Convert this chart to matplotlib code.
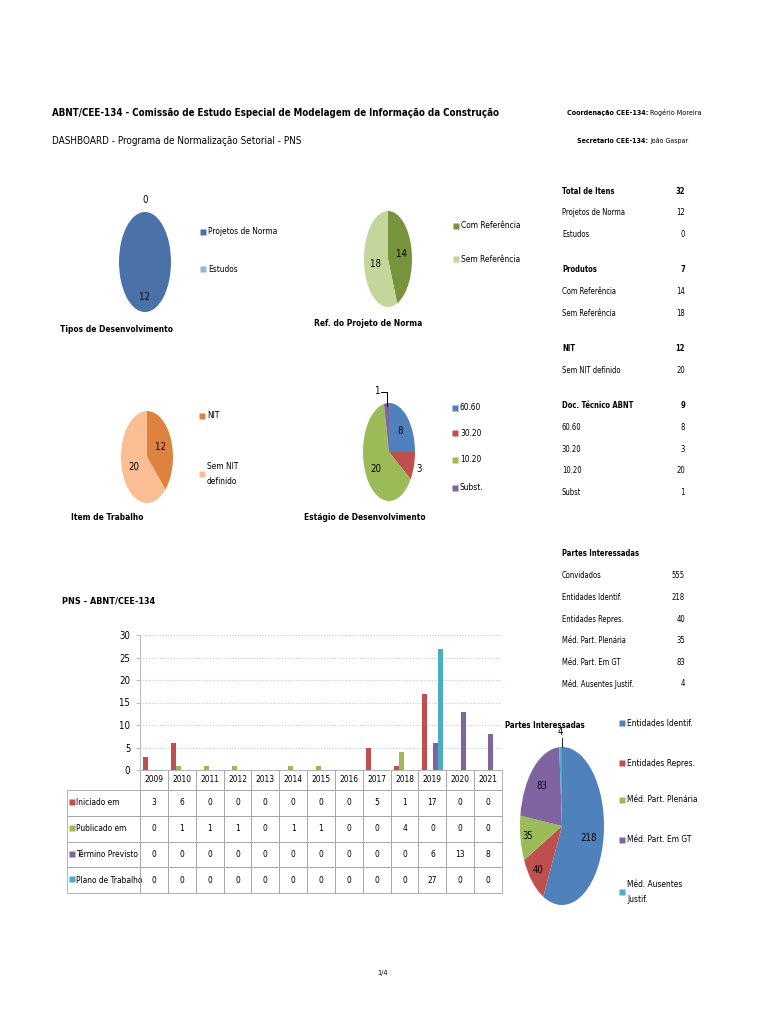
import numpy as np
import matplotlib
matplotlib.use("Agg")
import matplotlib.pyplot as plt
from matplotlib import font_manager

W, H = 768, 1024

# ---- data ----
tipos_labels = ['Projetos de Norma', 'Estudos']
tipos_values = [12, 0]
ref_labels = ['Com Referência', 'Sem Referência']
ref_values = [14, 18]
item_labels = ['NIT', 'Sem NIT\ndefinido']
item_values = [12, 20]
estagio_labels = ['60.60', '30.20', '10.20', 'Subst.']
estagio_values = [8, 3, 20, 1]
partes_labels = ['Entidades Identif.', 'Entidades Repres.', 'Méd. Part. Plenária',
                 'Méd. Part. Em GT', 'Méd. Ausentes\nJustif.']
partes_values = [218, 40, 35, 83, 4]

years = ['2009', '2010', '2011', '2012', '2013', '2014', '2015', '2016',
         '2017', '2018', '2019', '2020', '2021']
iniciado = [3, 6, 0, 0, 0, 0, 0, 0, 5, 1, 17, 0, 0]
publicado = [0, 1, 1, 1, 0, 1, 1, 0, 0, 4, 0, 0, 0]
termino = [0, 0, 0, 0, 0, 0, 0, 0, 0, 0, 6, 13, 8]
plano = [0, 0, 0, 0, 0, 0, 0, 0, 0, 0, 27, 0, 0]
series_names = ['Iniciado em', 'Publicado em', 'Término Previsto', 'Plano de Trabalho']

summary_rows = [
    ('Total de Itens', '32', True), ('Projetos de Norma', '12', False), ('Estudos', '0', False),
    None,
    ('Produtos', '7', True), ('Com Referência', '14', False), ('Sem Referência', '18', False),
    None,
    ('NIT', '12', True), ('Sem NIT definido', '20', False),
    None,
    ('Doc. Técnico ABNT', '9', True), ('60.60', '8', False), ('30.20', '3', False),
    ('10.20', '20', False), ('Subst', '1', False),
]
partes_rows = [('Convidados', '555'), ('Entidades Identif.', '218'), ('Entidades Repres.', '40'),
               ('Méd. Part. Plenária', '35'), ('Méd. Part. Em GT', '83'), ('Méd. Ausentes Justif.', '4')]

blue, red, green, purple, cyan = '#4F81BD', '#C0504D', '#9BBB59', '#8064A2', '#4BACC6'

# use a condensed face when one is installed (the original uses a narrow font)
fonts = font_manager.fontManager.ttflist
cond_names = {f.name for f in fonts if f.stretch != 'normal'}
if 'DejaVu Sans' in cond_names:
    plt.rcParams['font.family'] = ['DejaVu Sans']
    plt.rcParams['font.stretch'] = 'condensed'
else:
    plt.rcParams['font.family'] = ['Liberation Sans', 'DejaVu Sans']


def px_rect(x0, y0, x1, y1):
    return [x0 / W, 1 - y1 / H, (x1 - x0) / W, (y1 - y0) / H]


fig = plt.figure(figsize=(7.68, 10.24), dpi=100)
renderer = fig.canvas.get_renderer()

# scale factor so that body text has the reference's width
probe = fig.text(0, 0, 'Projetos de Norma', fontsize=10)
K = 70.0 / probe.get_window_extent(renderer).width * 10 / 7.5
probe.remove()

# overlay axes in pixel coordinates for free text
bg = fig.add_axes([0, 0, 1, 1], zorder=10)
bg.set_xlim(0, W)
bg.set_ylim(H, 0)
bg.axis('off')
bg.patch.set_alpha(0)


def txt(x, y, s, fs, **kw):
    return bg.text(x, y, s, fontsize=fs * K, va=kw.pop('va', 'center'), **kw)


def fit(x, y, s, width, **kw):
    t = bg.text(x, y, s, fontsize=10, va='center', **kw)
    t.set_fontsize(10 * width / t.get_window_extent(renderer).width)
    return t


def two_part(x_right, y, bold_s, reg_s, width):
    # bold lead-in followed by regular text, right aligned, scaled to width
    t = bg.text(x_right, y, reg_s, fontsize=10, va='center', ha='right')
    b = bg.annotate(bold_s, xy=(0, 0.5), xycoords=t, ha='right', va='center',
                    fontsize=10, fontweight='bold')
    total = t.get_window_extent(renderer).width + b.get_window_extent(renderer).width
    fs = 10 * width / total
    t.set_fontsize(fs)
    b.set_fontsize(fs)


def draw_pie(cx, cy, rx, ry, values, colors, dists):
    ax = fig.add_axes(px_rect(cx - rx, cy - ry, cx + rx, cy + ry))
    wedges, _ = ax.pie(values, colors=colors, startangle=90, counterclock=False,
                       wedgeprops=dict(linewidth=0))
    ax.set_aspect('auto')
    ax.set_xlim(-1, 1)
    ax.set_ylim(-1, 1)
    for w, v, r in zip(wedges, values, dists):
        ang = np.deg2rad((w.theta1 + w.theta2) / 2)
        ax.text(r * np.cos(ang), r * np.sin(ang), str(v), ha='center', va='center',
                fontsize=8.5 * K, clip_on=False)
    return ax, wedges


def legend(x, ys, labels, colors, fs=7.5):
    for y, lab, c in zip(ys, labels, colors):
        bg.plot(x, y, 's', color=c, ms=4.5, mec='none')
        txt(x + 5, y, lab, fs, ha='left', linespacing=1.9)


# ---- header ----
fit(52, 113, 'ABNT/CEE-134 - Comissão de Estudo Especial de Modelagem de Informação da Construção',
    445, fontweight='bold')
fit(52, 141, 'DASHBOARD - Programa de Normalização Setorial - PNS', 249)
two_part(702, 113, 'Coordenação CEE-134: ', 'Rogério Moreira', 135)
two_part(688, 141, 'Secretario CEE-134: ', 'João Gaspar', 111)

# ---- pies ----
tipos_colors = ['#4A72A8', '#95B3D7']
draw_pie(145, 262, 26, 50, tipos_values, tipos_colors, [0.7, 1.24])
legend(203, [232, 269], tipos_labels, tipos_colors)
txt(117, 330, 'Tipos de Desenvolvimento', 7.5, fontweight='bold', ha='center')

ref_colors = ['#77933C', '#C3D69B']
draw_pie(388, 259, 24, 48, ref_values, ref_colors, [0.55, 0.55])
legend(456, [226, 259], ref_labels, ref_colors)
txt(368, 323, 'Ref. do Projeto de Norma', 7.5, fontweight='bold', ha='center')

item_colors = ['#DE8240', '#F9BE93']
draw_pie(147, 457, 26, 46, item_values, item_colors, [0.55, 0.55])
legend(202, [416, 474], item_labels, item_colors)
txt(107, 518, 'Item de Trabalho', 7.5, fontweight='bold', ha='center')

estagio_colors = [blue, red, green, purple]
ax4, w4 = draw_pie(389, 452, 26, 49, estagio_values, estagio_colors, [0.62, 1.2, 0.62, 0])
# the small wedge gets an outside label with a leader line
ax4.texts[-1].set_visible(False)
ang = np.deg2rad((w4[3].theta1 + w4[3].theta2) / 2)
ax4.plot([np.cos(ang) * 0.95, np.cos(ang) * 0.95, -0.3], [np.sin(ang) * 0.95, 1.22, 1.22],
         color='black', lw=0.7, clip_on=False)
ax4.text(-0.42, 1.24, str(estagio_values[3]), ha='center', va='center', fontsize=8.5 * K, clip_on=False)
legend(455, [408, 433, 460, 488], estagio_labels, estagio_colors)
txt(365, 518, 'Estágio de Desenvolvimento', 7.5, fontweight='bold', ha='center')

partes_colors = [blue, red, green, purple, cyan]
ax5, w5 = draw_pie(562, 826, 42, 79, partes_values, partes_colors, [0.66, 0.8, 0.82, 0.7, 1.19])
ax5.plot([0, 0], [1.0, 1.12], color='black', lw=0.6, clip_on=False)
legend(622, [723, 763, 800, 840, 892], partes_labels, partes_colors)
txt(545, 726, 'Partes Interessadas', 7, fontweight='bold', ha='center')

# ---- summary table (right) ----
y = 191
for row in summary_rows:
    if row is None:
        y += 14
        continue
    lab, val, bold = row
    fw = 'bold' if bold else 'normal'
    txt(562, y, lab, 6.8, fontweight=fw)
    txt(685, y, val, 6.8, fontweight=fw, ha='right')
    y += 21.6

txt(562, 554, 'Partes Interessadas', 6.8, fontweight='bold')
for i, (lab, val) in enumerate(partes_rows):
    yy = 576 + i * 21.6
    txt(562, yy, lab, 6.8)
    txt(685, yy, val, 6.8, ha='right')

# ---- bar chart ----
txt(62, 601, 'PNS - ABNT/CEE-134', 8, fontweight='bold')
axb = fig.add_axes(px_rect(140, 635, 502, 770))
x = np.arange(len(years))
series = [iniciado, publicado, termino, plano]
scolors = [red, green, purple, cyan]
for i, (vals, c) in enumerate(zip(series, scolors)):
    axb.bar(x + (i - 1.5) * 0.2, vals, width=0.18, color=c, zorder=3)
axb.set_xlim(-0.5, len(years) - 0.5)
axb.set_ylim(0, 30)
axb.set_yticks(range(0, 31, 5))
axb.set_xticks([])
axb.tick_params(axis='y', labelsize=8.5 * K, length=3, color='#BFBFBF', pad=4)
axb.yaxis.grid(True, linestyle=(0, (1, 1.5)), color='#B9CDE5', lw=0.8)
for s in ['top', 'right', 'bottom']:
    axb.spines[s].set_visible(False)
axb.spines['left'].set_color('#BFBFBF')

# data table under the bars; sizes in axes fractions so the bbox scale is 1
ax_h = 135.0
hdr_h, row_h, lab_w = 20 / ax_h, 25.75 / ax_h, 73 / 362
cell_text = [[str(v) for v in vals] for vals in series]
tab = axb.table(cellText=cell_text, colLabels=years,
                bbox=[0, -(hdr_h + 4 * row_h), 1, hdr_h + 4 * row_h], cellLoc='center')
tab.auto_set_font_size(False)
for r, name in enumerate(series_names, start=1):
    tab.add_cell(r, -1, width=lab_w, height=row_h, text=name, loc='left')
for (r, c), cell in tab.get_celld().items():
    cell.set_edgecolor('#A6A6A6')
    cell.set_linewidth(0.6)
    cell.set_facecolor('none')
    cell.get_text().set_fontsize(7.5 * K)
    if c >= 0:
        cell.set_width(1 / len(years))
        cell.set_height(hdr_h if r == 0 else row_h)
    else:
        cell.PAD = 9 / 73

for i, c in enumerate(scolors):
    bg.plot(72, 802 + i * 25.75, 's', color=c, ms=4, mec='none')

# footer
txt(383, 973, '1/4', 6.5, ha='center')

fig.savefig('out.png', dpi=100)
